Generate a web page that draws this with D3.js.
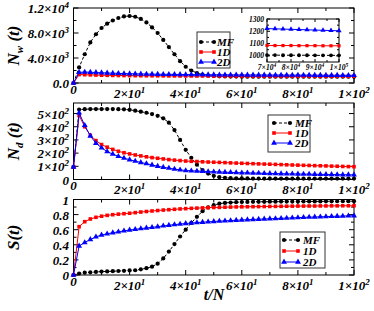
<!DOCTYPE html>
<html><head><meta charset="utf-8">
<script src="https://cdn.jsdelivr.net/npm/d3@7"></script>
<style>body{margin:0;background:#fff}svg{display:block}</style>
</head><body>
<svg id="c" width="374" height="311"></svg>
<script>
// ---------- data ----------
const tVals = [0,2,4,6,8,10,12,14,16,18,20,22,24,26,28,30,32,34,36,38,40,42,44,46,48,50,52,54,56,58,60,62,64,66,68,70,72,74,76,78,80,82,84,86,88,90,92,94,96,98,100];
const seriesNames = ["MF","1D","2D"];

const nwMF = [0,2500,4600,6500,7800,8800,9500,10000,10400,10650,10720,10600,10250,9700,8900,8000,6900,5750,4600,3500,2600,2000,1600,1350,1200,1120,1070,1045,1030,1022,1018,1015,1013,1012,1011,1010,1010,1009,1009,1008,1008,1008,1007,1007,1007,1006,1006,1006,1005,1005,1005];
const nw1D = [0,1350,1330,1300,1270,1250,1230,1210,1200,1190,1180,1170,1165,1160,1155,1150,1145,1140,1136,1132,1128,1125,1122,1119,1116,1113,1111,1109,1107,1105,1103,1101,1100,1099,1098,1097,1096,1095,1094,1093,1092,1091,1090,1089,1088,1087,1086,1086,1085,1085,1085];
const nw2D = [0,1700,1750,1720,1680,1640,1600,1570,1540,1510,1490,1470,1450,1435,1420,1405,1395,1385,1375,1365,1355,1347,1340,1333,1326,1320,1314,1308,1303,1298,1293,1289,1285,1281,1277,1273,1270,1267,1264,1261,1258,1255,1252,1249,1246,1243,1240,1237,1234,1232,1230];

const insetT = [70000,73333,76667,80000,83333,86667,90000,93333,96667,100000];
const inMF = [1006,1006,1005,1005,1005,1005,1004,1004,1004,1004];
const in1D = [1085,1084,1084,1084,1083,1083,1083,1082,1082,1082];
const in2D = [1222,1220,1218,1216,1214,1212,1210,1208,1206,1204];

const ndMF = [95,530,533,534,534,534,534,534,533,532,528,522,514,506,496,483,464,431,375,300,225,165,112,72,45,28,18,13,10,9,8,8,7,7,7,7,7,7,7,7,7,7,7,7,7,7,7,7,7,7,7];
const nd1D = [95,485,400,335,295,265,245,228,214,203,194,186,179,172,166,161,156,151,147,143.5,140,138,136,134,132.5,131,129.5,128,126,124.5,123,121.5,120,118.5,117,116,114.5,113,111.5,110,109,107.5,106.5,105,104,103,101.5,100.5,99,98,97];
const nd2D = [95,505,410,330,275,240,212,192,176,162,150,139,129,120,110,101,93,86,79,73,68,66,64,62,60,58.5,57,55.5,54,52.5,51,50,49,48,47,46,45,44,43,42.5,42,41,40.5,40,39,38.5,38,37,36.5,36,35];

const sMF = [0,0.02,0.03,0.035,0.04,0.045,0.048,0.05,0.053,0.056,0.06,0.063,0.075,0.09,0.11,0.15,0.22,0.31,0.41,0.51,0.6,0.69,0.77,0.845,0.895,0.925,0.945,0.955,0.96,0.964,0.967,0.968,0.969,0.97,0.97,0.971,0.971,0.972,0.972,0.973,0.973,0.974,0.974,0.975,0.975,0.976,0.976,0.977,0.977,0.978,0.978];
const s1D = [0,0.64,0.706,0.742,0.764,0.779,0.79,0.799,0.806,0.812,0.818,0.826,0.834,0.841,0.848,0.854,0.86,0.865,0.87,0.875,0.879,0.883,0.886,0.889,0.892,0.894,0.896,0.898,0.9,0.902,0.903,0.904,0.905,0.906,0.907,0.908,0.909,0.91,0.911,0.912,0.913,0.913,0.914,0.914,0.915,0.915,0.916,0.916,0.917,0.917,0.918];
const s2D = [0,0.385,0.43,0.47,0.505,0.53,0.545,0.56,0.572,0.585,0.596,0.605,0.614,0.623,0.632,0.64,0.65,0.659,0.667,0.675,0.682,0.688,0.694,0.699,0.704,0.709,0.713,0.717,0.721,0.725,0.729,0.732,0.736,0.739,0.742,0.745,0.748,0.751,0.754,0.757,0.76,0.763,0.766,0.768,0.771,0.773,0.776,0.778,0.781,0.783,0.785];

// tick labels
const xTickVals = [0,20,40,60,80,100];
const xTickBase = ["0","2×10","4×10","6×10","8×10","1×10"];
const xTickExp  = ["","1","1","1","1","2"];
const y1TickVals = [0,4000,8000,12000];
const y1TickBase = ["0.0","4.0×10","8.0×10","1.2×10"];
const y1TickExp  = ["","3","3","4"];
const y2TickVals = [0,100,200,300,400,500];
const y2TickBase = ["0","1×10","2×10","3×10","4×10","5×10"];
const y2TickExp  = ["","2","2","2","2","2"];
const y3TickVals = [0,0.2,0.4,0.6,0.8,1];
const y3TickBase = ["0","0.2","0.4","0.6","0.8","1"];
const y3TickExp  = ["","","","","",""];
const inXTickVals = [70000,80000,90000,100000];
const inXTickBase = ["7×10","8×10","9×10","1×10"];
const inXTickExp  = ["4","4","4","5"];
const inYTickVals = [1000,1100,1200,1300];
const inYTickBase = ["1000","1100","1200","1300"];

// ---------- drawing ----------
const svg = d3.select("#c");
const FONT = "'Liberation Serif','DejaVu Serif',serif";
const colors = {MF:"#000000","1D":"#ff0000","2D":"#0000ff"};
const dashes = {MF:"3,2","1D":null,"2D":null};
const symbols = {MF:d3.symbolCircle,"1D":d3.symbolSquare,"2D":d3.symbolTriangle};
const symSize = {MF:14,"1D":13,"2D":15};

const x = d3.scaleLinear().domain([0,100]).range([73.5,354]);

function label(g, px, py, base, exp, anchor, fs, efs, edy){
  const t = g.append("text").attr("x",px).attr("y",py)
    .attr("text-anchor",anchor).attr("font-family",FONT)
    .attr("font-weight","bold").attr("font-style","italic")
    .attr("font-size",fs).attr("fill","#000");
  t.append("tspan").text(base);
  if(exp){ t.append("tspan").attr("dy",-edy).attr("font-size",efs).text(exp); }
  return t;
}

function frameTicks(g, xs, ys, xMaj, xMin, yMaj, yMin, majL, minL){
  const [x0,x1] = xs.range(); const [y0,y1] = ys.range();
  g.append("rect").attr("x",x0).attr("y",y1).attr("width",x1-x0).attr("height",y0-y1)
    .attr("fill","none").attr("stroke","#000").attr("stroke-width",1);
  const tk = g.append("g").attr("stroke","#000").attr("stroke-width",1);
  const drawX = (vals,L)=>vals.forEach(v=>{const px=xs(v);
    tk.append("line").attr("x1",px).attr("x2",px).attr("y1",y0).attr("y2",y0-L);
    tk.append("line").attr("x1",px).attr("x2",px).attr("y1",y1).attr("y2",y1+L);});
  const drawY = (vals,L)=>vals.forEach(v=>{const py=ys(v);
    tk.append("line").attr("y1",py).attr("y2",py).attr("x1",x0).attr("x2",x0+L);
    tk.append("line").attr("y1",py).attr("y2",py).attr("x1",x1).attr("x2",x1-L);});
  drawX(xMaj,majL); drawX(xMin,minL); drawY(yMaj,majL); drawY(yMin,minL);
}

function drawSeries(g, xs, ys, tArr, vals, name, scale){
  const line = d3.line().x((d,i)=>xs(tArr[i])).y(d=>ys(d));
  g.append("path").attr("d",line(vals)).attr("fill","none")
    .attr("stroke",colors[name]).attr("stroke-width",1)
    .attr("stroke-dasharray",dashes[name]);
  const sym = d3.symbol().type(symbols[name]).size(symSize[name]*scale);
  g.selectAll(null).data(vals).enter().append("path")
    .attr("d",sym).attr("fill",colors[name])
    .attr("transform",(d,i)=>`translate(${xs(tArr[i])},${ys(d)})`);
}

function legend(g, bx, by, bw, bh, lx0, lx1, tx, rows){
  g.append("rect").attr("x",bx).attr("y",by).attr("width",bw).attr("height",bh)
    .attr("fill","#fff").attr("stroke","#333").attr("stroke-width",1);
  seriesNames.forEach((n,i)=>{
    const yy = rows[i];
    g.append("line").attr("x1",lx0).attr("x2",lx1).attr("y1",yy).attr("y2",yy)
      .attr("stroke",colors[n]).attr("stroke-width",1).attr("stroke-dasharray",dashes[n]);
    const sym = d3.symbol().type(symbols[n]).size(symSize[n]);
    [lx0,lx1].forEach(px=>g.append("path").attr("d",sym).attr("fill",colors[n])
      .attr("transform",`translate(${px},${yy})`));
    label(g, tx, yy+3.5, n, "", "start", 11, 0, 0);
  });
}

const xMinor = [10,30,50,70,90];
const panels = [
  {top:8, bottom:83, dom:[0,12000], data:[nwMF,nw1D,nw2D], tv:y1TickVals, tb:y1TickBase, te:y1TickExp, minor:[2000,6000,10000],
   title:["N","w"," (t)"], leg:[197,32,33,36,201,214,217,[42,52,62]]},
  {top:103, bottom:179.5, dom:[0,580], data:[ndMF,nd1D,nd2D], tv:y2TickVals, tb:y2TickBase, te:y2TickExp, minor:[],
   title:["N","d"," (t)"], leg:[268,115,42,37,274,290,295,[123,133,143]]},
  {top:199.5, bottom:275, dom:[0,1], data:[sMF,s1D,s2D], tv:y3TickVals, tb:y3TickBase, te:y3TickExp, minor:[0.1,0.3,0.5,0.7,0.9],
   title:["S(t)","",""], leg:[280,232,45,36,284,298,303,[240,251,262]]}
];

panels.forEach((p,pi)=>{
  const g = svg.append("g");
  const y = d3.scaleLinear().domain(p.dom).range([p.bottom,p.top]);
  frameTicks(g, x, y, xTickVals, xMinor, p.tv, p.minor, 5, 3);
  p.data.forEach((vals,k)=>drawSeries(g, x, y, tVals, vals, seriesNames[k], 1));
  p.tv.forEach((v,i)=>label(g, 69, y(v)+5, p.tb[i], p.te[i], "end", 13, 9, 5));
  xTickVals.forEach((v,i)=>label(g, x(v), p.bottom + (xTickExp[i]? 14.5 : 10.5), xTickBase[i], xTickExp[i], "middle", 13, 9, 5));
  const cy = (p.top+p.bottom)/2;
  const tt = g.append("text").attr("transform",`translate(13,${cy}) rotate(-90)`)
    .attr("text-anchor","middle").attr("dy","0.35em").attr("font-family",FONT)
    .attr("font-weight","bold").attr("font-style","italic").attr("font-size",17);
  tt.append("tspan").text(p.title[0]);
  if(p.title[1]) tt.append("tspan").attr("dy",4).attr("font-size",11).text(p.title[1]);
  if(p.title[2]) tt.append("tspan").attr("dy",-4).text(p.title[2]);
  const L = p.leg;
  legend(g, L[0],L[1],L[2],L[3],L[4],L[5],L[6],L[7]);
});

// inset in panel 1
{
  const g = svg.append("g");
  const ix = d3.scaleLinear().domain([70000,100000]).range([267,339]);
  const iy = d3.scaleLinear().domain([950,1300]).range([62,19]);
  g.append("rect").attr("x",267).attr("y",19).attr("width",72).attr("height",43).attr("fill","#fff");
  frameTicks(g, ix, iy, inXTickVals, [75000,85000,95000], inYTickVals, [1050,1150,1250], 3, 2);
  [inMF,in1D,in2D].forEach((vals,k)=>drawSeries(g, ix, iy, insetT, vals, seriesNames[k], 0.8));
  inYTickVals.forEach((v,i)=>label(g, 264, iy(v)+2.5, inYTickBase[i], "", "end", 7.5, 0, 0));
  inXTickVals.forEach((v,i)=>label(g, ix(v), 70, inXTickBase[i], inXTickExp[i], "middle", 7.5, 5.5, 3));
}

label(svg, 214, 300, "t/N", "", "middle", 16, 0, 0);
</script>
</body></html>
